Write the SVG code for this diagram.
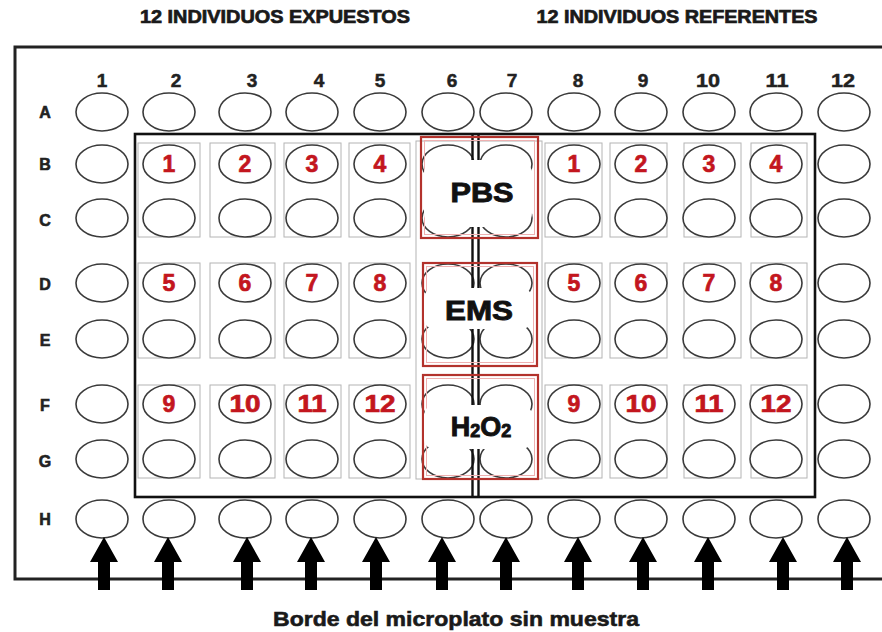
<svg xmlns="http://www.w3.org/2000/svg" width="882" height="632" viewBox="0 0 882 632">
<defs>
<style>
text{font-family:"Liberation Sans",Arial,sans-serif;font-weight:bold;}
.t{font-size:18px;fill:#1a1a1a;stroke:#1a1a1a;stroke-width:0.7;text-anchor:middle;}
.cl{font-size:19px;fill:#222;stroke:#222;stroke-width:0.5;text-anchor:middle;}
.rl{font-size:16px;fill:#222;stroke:#222;stroke-width:0.6;text-anchor:middle;}
.num{font-size:23px;fill:#c3161e;stroke:#c3161e;stroke-width:0.7;text-anchor:middle;}
.lab{font-size:27px;fill:#111;stroke:#111;stroke-width:0.9;text-anchor:middle;}
.cap{font-size:21px;fill:#1a1a1a;stroke:#1a1a1a;stroke-width:0.6;text-anchor:middle;}
.w{fill:#fff;stroke:#3a3a3a;stroke-width:1.6;}
.g{fill:none;stroke:#b4b4b4;stroke-width:1;}
.red{fill:none;stroke:#b3322c;stroke-width:2.2;}
.redin{fill:none;stroke:#eeb0b0;stroke-width:1;}
.wh{fill:#fff;stroke:none;}
.arr{fill:#000;}
</style>
</defs>
<rect width="882" height="632" fill="#fff"/>

<g id="titles">
<text class="t" x="275" y="23" textLength="270" lengthAdjust="spacingAndGlyphs">12 INDIVIDUOS EXPUESTOS</text>
<text class="t" x="677" y="23" textLength="281" lengthAdjust="spacingAndGlyphs">12 INDIVIDUOS REFERENTES</text>
</g>

<g id="plate">
<path d="M882 47 H15 V579 H882" fill="none" stroke="#222" stroke-width="3"/>
<rect x="135" y="134" width="680" height="363" fill="none" stroke="#111" stroke-width="2.6"/>
</g>

<g id="column-frames">
<rect class="g" x="138" y="143" width="62" height="94"/><rect class="g" x="210" y="143" width="65" height="94"/><rect class="g" x="284" y="143" width="57" height="94"/><rect class="g" x="349" y="143" width="61" height="94"/>
<rect class="g" x="545" y="143" width="57" height="94"/><rect class="g" x="610" y="143" width="57" height="94"/><rect class="g" x="684" y="143" width="57" height="94"/><rect class="g" x="751" y="143" width="56" height="94"/>
<rect class="g" x="138" y="263" width="62" height="95"/><rect class="g" x="210" y="263" width="65" height="95"/><rect class="g" x="284" y="263" width="57" height="95"/><rect class="g" x="349" y="263" width="61" height="95"/>
<rect class="g" x="545" y="263" width="57" height="95"/><rect class="g" x="610" y="263" width="57" height="95"/><rect class="g" x="684" y="263" width="57" height="95"/><rect class="g" x="751" y="263" width="56" height="95"/>
<rect class="g" x="138" y="385" width="62" height="93"/><rect class="g" x="210" y="385" width="65" height="93"/><rect class="g" x="284" y="385" width="57" height="93"/><rect class="g" x="349" y="385" width="61" height="93"/>
<rect class="g" x="545" y="385" width="57" height="93"/><rect class="g" x="610" y="385" width="57" height="93"/><rect class="g" x="684" y="385" width="57" height="93"/><rect class="g" x="751" y="385" width="56" height="93"/>
<rect class="g" x="416" y="141" width="126" height="338"/>
</g>

<g id="column-labels">
<text class="cl" x="102" y="87">1</text><text class="cl" x="176" y="87">2</text><text class="cl" x="252" y="87">3</text><text class="cl" x="319" y="87">4</text><text class="cl" x="380" y="87">5</text><text class="cl" x="452" y="87">6</text><text class="cl" x="512" y="87">7</text><text class="cl" x="578" y="87">8</text><text class="cl" x="643" y="87">9</text><text class="cl" x="708" y="87" textLength="24" lengthAdjust="spacingAndGlyphs">10</text><text class="cl" x="777" y="87" textLength="23" lengthAdjust="spacingAndGlyphs">11</text><text class="cl" x="843" y="87" textLength="24" lengthAdjust="spacingAndGlyphs">12</text>
</g>

<g id="row-labels">
<text class="rl" x="45" y="118">A</text><text class="rl" x="45" y="170">B</text><text class="rl" x="45" y="226">C</text><text class="rl" x="45" y="290">D</text><text class="rl" x="45" y="346">E</text><text class="rl" x="45" y="411">F</text><text class="rl" x="45" y="467">G</text><text class="rl" x="45" y="525">H</text>
</g>

<g id="row-A"><ellipse class="w" cx="102" cy="112" rx="26" ry="19"/><ellipse class="w" cx="169" cy="112" rx="26" ry="19"/><ellipse class="w" cx="245" cy="112" rx="26" ry="19"/><ellipse class="w" cx="312" cy="112" rx="26" ry="19"/><ellipse class="w" cx="380" cy="112" rx="26" ry="19"/><ellipse class="w" cx="448" cy="112" rx="26" ry="19"/><ellipse class="w" cx="506" cy="112" rx="26" ry="19"/><ellipse class="w" cx="574" cy="112" rx="26" ry="19"/><ellipse class="w" cx="641" cy="112" rx="26" ry="19"/><ellipse class="w" cx="709" cy="112" rx="26" ry="19"/><ellipse class="w" cx="776" cy="112" rx="26" ry="19"/><ellipse class="w" cx="844" cy="112" rx="26" ry="19"/></g>
<g id="row-B"><ellipse class="w" cx="102" cy="164" rx="26" ry="19"/><ellipse class="w" cx="169" cy="164" rx="26" ry="19"/><ellipse class="w" cx="245" cy="164" rx="26" ry="19"/><ellipse class="w" cx="312" cy="164" rx="26" ry="19"/><ellipse class="w" cx="380" cy="164" rx="26" ry="19"/><ellipse class="w" cx="448" cy="164" rx="26" ry="19"/><ellipse class="w" cx="506" cy="164" rx="26" ry="19"/><ellipse class="w" cx="574" cy="164" rx="26" ry="19"/><ellipse class="w" cx="641" cy="164" rx="26" ry="19"/><ellipse class="w" cx="709" cy="164" rx="26" ry="19"/><ellipse class="w" cx="776" cy="164" rx="26" ry="19"/><ellipse class="w" cx="844" cy="164" rx="26" ry="19"/></g>
<g id="row-C"><ellipse class="w" cx="102" cy="218" rx="26" ry="19"/><ellipse class="w" cx="169" cy="218" rx="26" ry="19"/><ellipse class="w" cx="245" cy="218" rx="26" ry="19"/><ellipse class="w" cx="312" cy="218" rx="26" ry="19"/><ellipse class="w" cx="380" cy="218" rx="26" ry="19"/><ellipse class="w" cx="448" cy="218" rx="26" ry="19"/><ellipse class="w" cx="506" cy="218" rx="26" ry="19"/><ellipse class="w" cx="574" cy="218" rx="26" ry="19"/><ellipse class="w" cx="641" cy="218" rx="26" ry="19"/><ellipse class="w" cx="709" cy="218" rx="26" ry="19"/><ellipse class="w" cx="776" cy="218" rx="26" ry="19"/><ellipse class="w" cx="844" cy="218" rx="26" ry="19"/></g>
<g id="row-D"><ellipse class="w" cx="102" cy="283" rx="26" ry="19"/><ellipse class="w" cx="169" cy="283" rx="26" ry="19"/><ellipse class="w" cx="245" cy="283" rx="26" ry="19"/><ellipse class="w" cx="312" cy="283" rx="26" ry="19"/><ellipse class="w" cx="380" cy="283" rx="26" ry="19"/><ellipse class="w" cx="448" cy="283" rx="26" ry="19"/><ellipse class="w" cx="506" cy="283" rx="26" ry="19"/><ellipse class="w" cx="574" cy="283" rx="26" ry="19"/><ellipse class="w" cx="641" cy="283" rx="26" ry="19"/><ellipse class="w" cx="709" cy="283" rx="26" ry="19"/><ellipse class="w" cx="776" cy="283" rx="26" ry="19"/><ellipse class="w" cx="844" cy="283" rx="26" ry="19"/></g>
<g id="row-E"><ellipse class="w" cx="102" cy="339" rx="26" ry="19"/><ellipse class="w" cx="169" cy="339" rx="26" ry="19"/><ellipse class="w" cx="245" cy="339" rx="26" ry="19"/><ellipse class="w" cx="312" cy="339" rx="26" ry="19"/><ellipse class="w" cx="380" cy="339" rx="26" ry="19"/><ellipse class="w" cx="448" cy="339" rx="26" ry="19"/><ellipse class="w" cx="506" cy="339" rx="26" ry="19"/><ellipse class="w" cx="574" cy="339" rx="26" ry="19"/><ellipse class="w" cx="641" cy="339" rx="26" ry="19"/><ellipse class="w" cx="709" cy="339" rx="26" ry="19"/><ellipse class="w" cx="776" cy="339" rx="26" ry="19"/><ellipse class="w" cx="844" cy="339" rx="26" ry="19"/></g>
<g id="row-F"><ellipse class="w" cx="102" cy="404" rx="26" ry="19"/><ellipse class="w" cx="169" cy="404" rx="26" ry="19"/><ellipse class="w" cx="245" cy="404" rx="26" ry="19"/><ellipse class="w" cx="312" cy="404" rx="26" ry="19"/><ellipse class="w" cx="380" cy="404" rx="26" ry="19"/><ellipse class="w" cx="448" cy="404" rx="26" ry="19"/><ellipse class="w" cx="506" cy="404" rx="26" ry="19"/><ellipse class="w" cx="574" cy="404" rx="26" ry="19"/><ellipse class="w" cx="641" cy="404" rx="26" ry="19"/><ellipse class="w" cx="709" cy="404" rx="26" ry="19"/><ellipse class="w" cx="776" cy="404" rx="26" ry="19"/><ellipse class="w" cx="844" cy="404" rx="26" ry="19"/></g>
<g id="row-G"><ellipse class="w" cx="102" cy="459" rx="26" ry="19"/><ellipse class="w" cx="169" cy="459" rx="26" ry="19"/><ellipse class="w" cx="245" cy="459" rx="26" ry="19"/><ellipse class="w" cx="312" cy="459" rx="26" ry="19"/><ellipse class="w" cx="380" cy="459" rx="26" ry="19"/><ellipse class="w" cx="448" cy="459" rx="26" ry="19"/><ellipse class="w" cx="506" cy="459" rx="26" ry="19"/><ellipse class="w" cx="574" cy="459" rx="26" ry="19"/><ellipse class="w" cx="641" cy="459" rx="26" ry="19"/><ellipse class="w" cx="709" cy="459" rx="26" ry="19"/><ellipse class="w" cx="776" cy="459" rx="26" ry="19"/><ellipse class="w" cx="844" cy="459" rx="26" ry="19"/></g>
<g id="row-H"><ellipse class="w" cx="102" cy="519" rx="26" ry="19"/><ellipse class="w" cx="169" cy="519" rx="26" ry="19"/><ellipse class="w" cx="245" cy="519" rx="26" ry="19"/><ellipse class="w" cx="312" cy="519" rx="26" ry="19"/><ellipse class="w" cx="380" cy="519" rx="26" ry="19"/><ellipse class="w" cx="448" cy="519" rx="26" ry="19"/><ellipse class="w" cx="506" cy="519" rx="26" ry="19"/><ellipse class="w" cx="574" cy="519" rx="26" ry="19"/><ellipse class="w" cx="641" cy="519" rx="26" ry="19"/><ellipse class="w" cx="709" cy="519" rx="26" ry="19"/><ellipse class="w" cx="776" cy="519" rx="26" ry="19"/><ellipse class="w" cx="844" cy="519" rx="26" ry="19"/></g>

<g id="divider">
<line x1="472.5" y1="134" x2="472.5" y2="497" stroke="#111" stroke-width="2.4"/>
<line x1="478.5" y1="134" x2="478.5" y2="497" stroke="#111" stroke-width="2.4"/>
</g>

<g id="box-PBS">
<rect class="red" x="421" y="137" width="117" height="101"/>
<rect class="redin" x="424.5" y="140.5" width="110" height="94"/>
<rect class="wh" x="424" y="160" width="108" height="67" rx="14"/>
<text class="lab" x="482" y="202" textLength="63" lengthAdjust="spacingAndGlyphs">PBS</text>
</g>
<g id="box-EMS">
<rect class="red" x="423" y="263" width="114" height="103"/>
<rect class="redin" x="426.5" y="266.5" width="107" height="96"/>
<rect class="wh" x="424" y="288" width="108" height="41" rx="10"/>
<text class="lab" x="479" y="320" textLength="68" lengthAdjust="spacingAndGlyphs">EMS</text>
</g>
<g id="box-H2O2">
<rect class="red" x="423" y="375" width="115" height="104"/>
<rect class="redin" x="426.5" y="378.5" width="108" height="97"/>
<rect class="wh" x="424" y="405" width="108" height="44" rx="10"/>
<text class="lab" x="481" y="436">H<tspan font-size="18" dy="1">2</tspan><tspan dy="-1">O</tspan><tspan font-size="18" dy="1">2</tspan></text>
</g>

<g id="sample-numbers">
<text class="num" x="169" y="172">1</text><text class="num" x="245" y="172">2</text><text class="num" x="312" y="172">3</text><text class="num" x="380" y="172">4</text>
<text class="num" x="574" y="172">1</text><text class="num" x="641" y="172">2</text><text class="num" x="709" y="172">3</text><text class="num" x="776" y="172">4</text>
<text class="num" x="169" y="291">5</text><text class="num" x="245" y="291">6</text><text class="num" x="312" y="291">7</text><text class="num" x="380" y="291">8</text>
<text class="num" x="574" y="291">5</text><text class="num" x="641" y="291">6</text><text class="num" x="709" y="291">7</text><text class="num" x="776" y="291">8</text>
<text class="num" x="169" y="412">9</text><text class="num" x="245" y="412" textLength="31" lengthAdjust="spacingAndGlyphs">10</text><text class="num" x="312" y="412" textLength="29" lengthAdjust="spacingAndGlyphs">11</text><text class="num" x="380" y="412" textLength="31" lengthAdjust="spacingAndGlyphs">12</text>
<text class="num" x="574" y="412">9</text><text class="num" x="641" y="412" textLength="31" lengthAdjust="spacingAndGlyphs">10</text><text class="num" x="709" y="412" textLength="29" lengthAdjust="spacingAndGlyphs">11</text><text class="num" x="776" y="412" textLength="31" lengthAdjust="spacingAndGlyphs">12</text>
</g>

<g id="connectors">
<path class="arr" d="M104 537 L118 562 L110 562 L110 590 L98 590 L98 562 L90 562 Z"/>
<path class="arr" d="M168 537 L182 562 L174 562 L174 590 L162 590 L162 562 L154 562 Z"/>
<path class="arr" d="M247 537 L261 562 L253 562 L253 590 L241 590 L241 562 L233 562 Z"/>
<path class="arr" d="M311 537 L325 562 L317 562 L317 590 L305 590 L305 562 L297 562 Z"/>
<path class="arr" d="M376 537 L390 562 L382 562 L382 590 L370 590 L370 562 L362 562 Z"/>
<path class="arr" d="M442 537 L456 562 L448 562 L448 590 L436 590 L436 562 L428 562 Z"/>
<path class="arr" d="M506 537 L520 562 L512 562 L512 590 L500 590 L500 562 L492 562 Z"/>
<path class="arr" d="M578 537 L592 562 L584 562 L584 590 L572 590 L572 562 L564 562 Z"/>
<path class="arr" d="M643 537 L657 562 L649 562 L649 590 L637 590 L637 562 L629 562 Z"/>
<path class="arr" d="M708 537 L722 562 L714 562 L714 590 L702 590 L702 562 L694 562 Z"/>
<path class="arr" d="M783 537 L797 562 L789 562 L789 590 L777 590 L777 562 L769 562 Z"/>
<path class="arr" d="M847 537 L861 562 L853 562 L853 590 L841 590 L841 562 L833 562 Z"/>
</g>

<g id="caption">
<text class="cap" x="456" y="626" textLength="366" lengthAdjust="spacingAndGlyphs">Borde del microplato sin muestra</text>
</g>
</svg>
